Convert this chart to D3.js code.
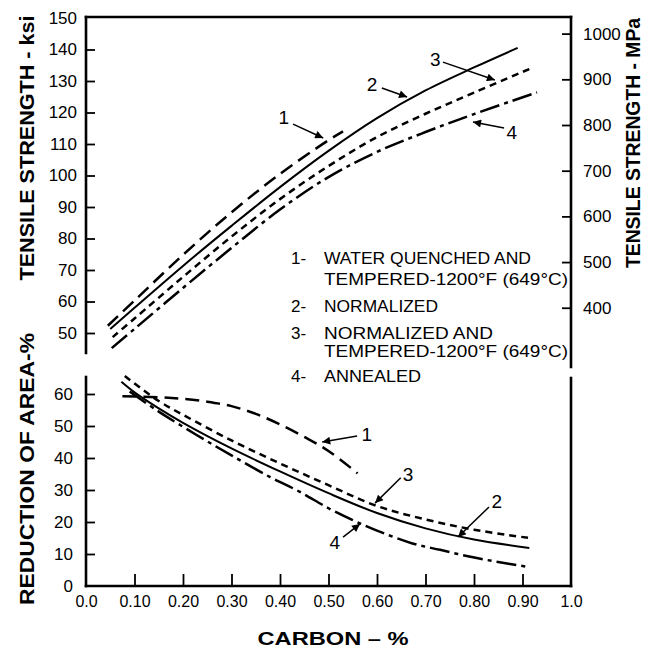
<!DOCTYPE html>
<html><head><meta charset="utf-8">
<script src="https://cdn.jsdelivr.net/npm/d3@7"></script>
<style>
html,body{margin:0;padding:0;background:#fff;}
svg{display:block;font-family:"Liberation Sans",Arial,sans-serif;}
</style></head>
<body>
<script>
// ---------- data ----------
const carbonTicks = [0.0,0.1,0.2,0.3,0.4,0.5,0.6,0.7,0.8,0.9,1.0];
const carbonLabels = ["0.0","0.10","0.20","0.30","0.40","0.50","0.60","0.70","0.80","0.90","1.0"];
const ksiTicks = [50,60,70,80,90,100,110,120,130,140,150];
const mpaTicks = [400,500,600,700,800,900,1000];
const raTicks = [0,10,20,30,40,50,60];

// tensile strength (ksi)
const ts1Carbon = [0.045,0.10,0.20,0.30,0.40,0.50,0.53];
const ts1Ksi    = [52.3,60.3,74.8,88.3,100.5,111.2,114];
const ts2Carbon = [0.05,0.10,0.20,0.30,0.40,0.50,0.60,0.70,0.80,0.89];
const ts2Ksi    = [51.3,58,71.3,84,96.3,107.8,118.2,127,134.3,140.5];
const ts3Carbon = [0.055,0.10,0.20,0.30,0.40,0.50,0.60,0.70,0.80,0.914];
const ts3Ksi    = [48.7,54.6,67.8,80.6,92.5,103,112.2,119.6,126.3,133.8];
const ts4Carbon = [0.053,0.10,0.20,0.30,0.40,0.50,0.60,0.70,0.80,0.93];
const ts4Ksi    = [45.2,51.3,64.3,77,89.2,99.5,107.5,113.8,119.5,126.4];

// reduction of area (%)
const ra1Carbon = [0.075,0.15,0.20,0.25,0.30,0.35,0.40,0.45,0.50,0.56];
const ra1Pct    = [59.3,59,58.5,57.6,56.2,53.8,50.5,46.6,42.2,35.2];
const ra2Carbon = [0.073,0.10,0.15,0.20,0.30,0.40,0.50,0.60,0.70,0.80,0.914];
const ra2Pct    = [63.8,60.5,55.5,51,43,35.8,29,22.8,18,14.5,11.9];
const ra3Carbon = [0.08,0.15,0.20,0.30,0.40,0.50,0.60,0.70,0.80,0.914];
const ra3Pct    = [65.6,57.8,53.5,45.5,38.3,31.5,25,20.8,17.6,15];
const ra4Carbon = [0.09,0.15,0.228,0.30,0.38,0.44,0.50,0.55,0.60,0.673,0.73,0.79,0.85,0.91];
const ra4Pct    = [60.8,54.5,47.2,40.8,34,29.5,24.3,20.6,17.3,13.3,11.3,9.2,7.5,6];

const legendNums  = ["1-","","2-","3-","","4-"];
const legendTexts = ["WATER QUENCHED AND","TEMPERED-1200°F (649°C)","NORMALIZED","NORMALIZED  AND","TEMPERED-1200°F (649°C)","ANNEALED"];

// annotation labels: label position, arrow start, arrow tip (data units)
const topNotes = [
  {t:"1", lx:0.408, ly:118.3, x1:0.427, y1:116.3, x2:0.489, y2:111.9},
  {t:"2", lx:0.590, ly:129.0, x1:0.610, y1:127.8, x2:0.662, y2:124.9},
  {t:"3", lx:0.720, ly:136.7, x1:0.736, y1:136.0, x2:0.843, y2:130.3},
  {t:"4", lx:0.878, ly:113.8, x1:0.862, y1:115.1, x2:0.798, y2:117.0}
];
const botNotes = [
  {t:"1", lx:0.579, ly:47.5, x1:0.559, y1:46.9, x2:0.487, y2:45.0},
  {t:"3", lx:0.664, ly:35.0, x1:0.649, y1:33.8, x2:0.596, y2:25.9},
  {t:"2", lx:0.847, ly:26.3, x1:0.831, y1:24.7, x2:0.767, y2:15.3},
  {t:"4", lx:0.513, ly:13.75, x1:0.530, y1:15.3, x2:0.565, y2:19.4}
];

// ---------- drawing ----------
const W=655,H=654;
const svg=d3.select("body").append("svg").attr("width",W).attr("height",H);
svg.append("rect").attr("width",W).attr("height",H).attr("fill","#fff");

const x = d3.scaleLinear([0,1],[86,571]);
const yTop = d3.scaleLinear([50,150],[333,18]);
const ksiToMpa = 6.894757;
const yMpa = d3.scaleLinear([50*ksiToMpa,150*ksiToMpa],[333,18]);
const yBot = d3.scaleLinear([0,60],[586,394]);

const defs=svg.append("defs");
defs.append("marker").attr("id","ah").attr("viewBox","0 0 10 10").attr("refX",10).attr("refY",5)
  .attr("markerWidth",11).attr("markerHeight",8).attr("markerUnits","userSpaceOnUse").attr("orient","auto")
  .append("path").attr("d","M0,0L10,5L0,10Z").attr("fill","#000");

const axW=2.6;
function ln(x1,y1,x2,y2){svg.append("line").attr("x1",x1).attr("y1",y1).attr("x2",x2).attr("y2",y2)
  .attr("stroke","#000").attr("stroke-width",axW).attr("stroke-linecap","square");}
ln(x(0),yTop(150)-1,x(1),yTop(150)-1);
ln(x(0),yTop(150)-1,x(0),353);
ln(x(1),yTop(150)-1,x(1),367);
ln(x(0),377,x(0),yBot(0));
ln(x(0),yBot(0),x(1),yBot(0));
ln(x(1),378,x(1),yBot(0));

function styleAxis(g,fs){
  g.select(".domain").remove();
  g.selectAll(".tick line").attr("stroke","#000").attr("stroke-width",1.8);
  g.selectAll("text").attr("font-size",fs).attr("fill","#000").attr("font-family","'Liberation Sans',Arial,sans-serif");
}
const gL=svg.append("g").attr("transform",`translate(${x(0)},0)`)
  .call(d3.axisLeft(yTop).tickValues(ksiTicks).tickSize(-9).tickPadding(9).tickFormat(d=>d));
styleAxis(gL,17);
gL.selectAll(".tick").filter(d=>d===150).select("line").remove();
const gR=svg.append("g").attr("transform",`translate(${x(1)},0)`)
  .call(d3.axisRight(yMpa).tickValues(mpaTicks).tickSize(-9).tickPadding(12).tickFormat(d=>d));
styleAxis(gR,17);
const gB=svg.append("g").attr("transform",`translate(${x(0)},0)`)
  .call(d3.axisLeft(yBot).tickValues(raTicks).tickSize(-9).tickPadding(13).tickFormat(d=>d));
styleAxis(gB,17);
gB.selectAll(".tick").filter(d=>d===0).select("line").remove();
const gX=svg.append("g").attr("transform",`translate(0,${yBot(0)})`)
  .call(d3.axisBottom(x).tickValues(carbonTicks).tickSize(-12).tickPadding(10).tickFormat((d,i)=>carbonLabels[i]));
styleAxis(gX,16);
gX.selectAll(".tick").filter(d=>d===0||d===1).select("line").remove();

// titles
function title(txt,cx,cy,rot,len,fs){
  svg.append("text").attr("transform",`translate(${cx},${cy}) rotate(${rot})`)
    .attr("text-anchor","middle").attr("dominant-baseline","central")
    .attr("font-weight","bold").attr("font-size",fs).attr("textLength",len).attr("lengthAdjust","spacingAndGlyphs")
    .text(txt);
}
title("TENSILE STRENGTH - ksi",26,148,-90,265,21);
title("TENSILE STRENGTH - MPa",633,143,-90,250,20);
title("REDUCTION OF AREA-%",26,469,-90,272,21);
title("CARBON – %",333,638,0,151,19);

// curves
const lineTop=d3.line().x(d=>x(d[0])).y(d=>yTop(d[1])).curve(d3.curveCatmullRom.alpha(0.5));
const lineBot=d3.line().x(d=>x(d[0])).y(d=>yBot(d[1])).curve(d3.curveCatmullRom.alpha(0.5));
const dashes=["14,7",null,"7,5","20,5,4,5"];
const topSeries=[[ts1Carbon,ts1Ksi],[ts2Carbon,ts2Ksi],[ts3Carbon,ts3Ksi],[ts4Carbon,ts4Ksi]];
const botSeries=[[ra1Carbon,ra1Pct],[ra2Carbon,ra2Pct],[ra3Carbon,ra3Pct],[ra4Carbon,ra4Pct]];
topSeries.forEach((s,i)=>{
  svg.append("path").attr("d",lineTop(d3.zip(s[0],s[1]))).attr("fill","none").attr("stroke","#000")
    .attr("stroke-width",i===1?2:2.5).attr("stroke-dasharray",dashes[i]);
});
botSeries.forEach((s,i)=>{
  svg.append("path").attr("d",lineBot(d3.zip(s[0],s[1]))).attr("fill","none").attr("stroke","#000")
    .attr("stroke-width",i===1?2:2.5).attr("stroke-dasharray",dashes[i]);
});

// annotations
function notes(arr,ys){
  arr.forEach(n=>{
    svg.append("line").attr("x1",x(n.x1)).attr("y1",ys(n.y1)).attr("x2",x(n.x2)).attr("y2",ys(n.y2))
      .attr("stroke","#000").attr("stroke-width",1.5).attr("marker-end","url(#ah)");
    svg.append("text").attr("x",x(n.lx)).attr("y",ys(n.ly)).attr("text-anchor","middle")
      .attr("dominant-baseline","central").attr("font-size",19).text(n.t);
  });
}
notes(topNotes,yTop);
notes(botNotes,yBot);

// legend
const legBase=[264,285,312,339,357,382];
const legLen=[207,244,114,169,244,97];
legendTexts.forEach((t,i)=>{
  if(legendNums[i]) svg.append("text").attr("x",291).attr("y",legBase[i]).attr("font-size",17).text(legendNums[i]);
  svg.append("text").attr("x",324).attr("y",legBase[i]).attr("font-size",17)
    .attr("textLength",legLen[i]).attr("lengthAdjust","spacingAndGlyphs").text(t);
});
</script>
</body></html>
